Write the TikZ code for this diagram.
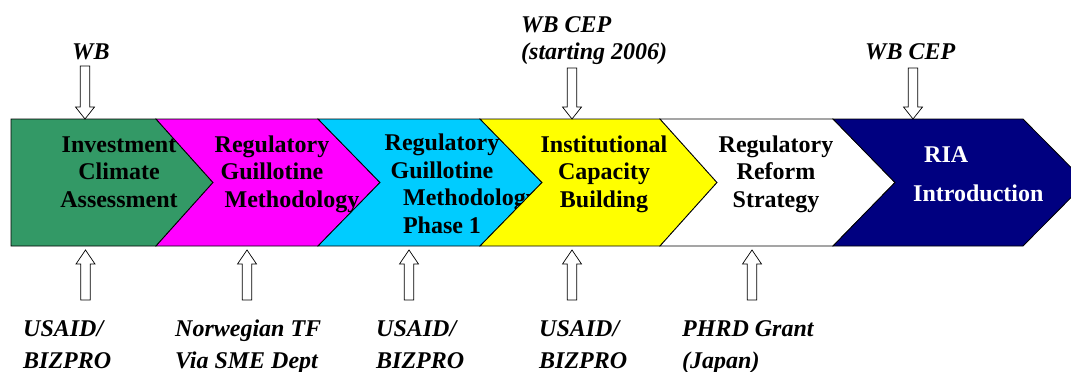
\documentclass[tikz,border=0pt]{standalone}
\usepackage{fontspec}
\setmainfont{Liberation Serif}

\definecolor{icagreen}{RGB}{51,153,102}
\definecolor{rgmagenta}{RGB}{255,0,255}
\definecolor{rgcyan}{RGB}{0,204,255}
\definecolor{icbyellow}{RGB}{255,255,0}
\definecolor{rianavy}{RGB}{0,0,128}

\tikzset{
  stage/.style={draw=black, line width=0.8pt, line join=miter},
  stagetext/.style={align=center, anchor=base, inner sep=0pt, font=\bfseries\fontsize{24}{27.5}\selectfont},
  fundtext/.style={align=left, anchor=base west, inner sep=0pt, font=\bfseries\itshape\fontsize{24}{32}\selectfont},
  blockarrow/.style={draw=black, fill=white, line width=0.7pt}
}

\begin{document}
\begin{tikzpicture}[x={(1pt,0pt)}, y={(0pt,-1pt)}]
    \useasboundingbox (0,0) rectangle (1071,372);

    % investment climate assessment
    \draw[stage, fill=icagreen] (11,119) -- (156,119) -- (213,182.5) -- (156,246) -- (11,246) -- cycle;
    \node[stagetext] (ica) at (119,207) {Investment\\Climate\\Assessment};

    % regulatory guillotine methodology
    \draw[stage, fill=rgmagenta] (156,119) -- (318,119) -- (380,182.5) -- (318,246) -- (156,246) -- (213,182.5) -- cycle;
    \node[stagetext] (rgm) at (272,207) {Regulatory\\Guillotine\\\hspace*{40pt}Methodology};

    % regulatory guillotine phase 1
    \draw[stage, fill=rgcyan] (318,119) -- (480,119) -- (542,182.5) -- (480,246) -- (318,246) -- (380,182.5) -- cycle;
    \node[stagetext] (rgp) at (442,233) {Regulatory\\Guillotine\\\hspace*{57pt}Methodology\\Phase 1};

    % institutional capacity building
    \draw[stage, fill=icbyellow] (480,119) -- (660,119) -- (717,182.5) -- (660,246) -- (480,246) -- (542,182.5) -- cycle;
    \node[stagetext] (icb) at (604,207) {Institutional\\Capacity\\Building};

    % regulatory reform strategy
    \draw[stage, fill=white] (660,119) -- (833,119) -- (895,182.5) -- (833,246) -- (660,246) -- (717,182.5) -- cycle;
    \node[stagetext] (rrs) at (776,207) {Regulatory\\Reform\\Strategy};

    % RIA introduction
    \draw[stage, fill=rianavy] (833,119) -- (1023,119) -- (1086,182.5) -- (1023,246) -- (833,246) -- (895,182.5) -- cycle;
    \node[stagetext, align=left, anchor=base west, text=white] (ria) at (913,201) {\hspace*{11pt}RIA\\[11.5pt]Introduction};

    % funding from above
    \foreach \x/\t in {85/66, 572/68, 913/68}
        \draw[blockarrow] (\x-4.75,\t) -- (\x+4.75,\t) -- (\x+4.75,107) -- (\x+9.5,107) -- (\x,119)
            -- (\x-9.5,107) -- (\x-4.75,107) -- cycle;

    \node[fundtext] (wb) at (72,59) {WB};
    \node[fundtext, font=\bfseries\itshape\fontsize{24}{27}\selectfont] (wbcep) at (521,59) {WB CEP\\(starting 2006)};
    \node[fundtext] (wbcepb) at (865,59) {WB CEP};

    % funding from below
    \foreach \x in {85.5, 247, 409, 572, 752}
        \draw[blockarrow] (\x-4.75,300) -- (\x+4.75,300) -- (\x+4.75,264) -- (\x+9.5,264) -- (\x,250)
            -- (\x-9.5,264) -- (\x-4.75,264) -- cycle;

    \node[fundtext] (usaida) at (23,368) {USAID/\\BIZPRO};
    \node[fundtext] (norway) at (175,368) {Norwegian TF\\Via SME Dept};
    \node[fundtext] (usaidb) at (376,368) {USAID/\\BIZPRO};
    \node[fundtext] (usaidc) at (539,368) {USAID/\\BIZPRO};
    \node[fundtext] (phrd) at (682,368) {PHRD Grant\\(Japan)};

\end{tikzpicture}
\end{document}
